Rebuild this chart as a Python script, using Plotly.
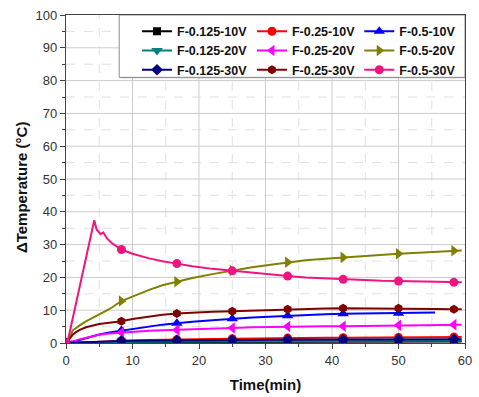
import plotly.graph_objects as go

# ---------------- data ----------------
time = [0, 0.5, 1, 1.5, 2, 3, 4, 5, 6.5, 8.33, 10, 12.5, 14.5, 16.67, 19, 22, 25, 28,
        30.5, 33.33, 36, 39, 41.67, 45, 47.5, 50, 53, 55.5, 58.33, 59.5]
time_pink = [0, 0.2, 4.25, 4.6, 5.2, 5.6, 6.2, 7.0, 8.33, 10, 12.5, 14.5, 16.67, 19, 22, 25, 28,
             30.5, 33.33, 36, 39, 41.67, 45, 47.5, 50, 53, 55.5, 58.33, 59.5]
marker_times = [0, 8.33, 16.67, 25, 33.33, 41.67, 50, 58.33]

f0125_10V = [0, 0.02, 0.05, 0.07, 0.1, 0.12, 0.15, 0.17, 0.2, 0.22, 0.24, 0.27, 0.29, 0.3, 0.32,
             0.34, 0.36, 0.38, 0.39, 0.4, 0.41, 0.42, 0.43, 0.44, 0.45, 0.45, 0.46, 0.47, 0.48, 0.48]
f025_10V = [0, 0.05, 0.1, 0.15, 0.2, 0.3, 0.4, 0.5, 0.6, 0.7, 0.8, 0.9, 1.0, 1.05, 1.1, 1.2, 1.3,
            1.4, 1.45, 1.5, 1.55, 1.6, 1.6, 1.65, 1.7, 1.7, 1.7, 1.75, 1.8, 1.8]
f05_10V = [0, 0.1, 0.3, 0.6, 0.9, 1.5, 2.1, 2.6, 3.2, 3.8, 4.3, 5.1, 5.6, 6.0, 6.5, 6.9, 7.4,
           7.8, 8.0, 8.3, 8.6, 8.8, 8.9, 9.0, 9.1, 9.1, 9.2, 9.3, None, None]
f0125_20V = [0, 0.03, 0.07, 0.1, 0.14, 0.18, 0.22, 0.26, 0.3, 0.34, 0.37, 0.4, 0.43, 0.45, 0.47,
             0.5, 0.52, 0.54, 0.56, 0.58, 0.6, 0.61, 0.62, 0.63, 0.64, 0.65, 0.66, 0.67, 0.68, 0.68]
f025_20V = [0, 0.2, 0.5, 0.8, 1.1, 1.6, 2.1, 2.5, 2.9, 3.2, 3.4, 3.7, 3.9, 4.0, 4.2, 4.4, 4.6,
            4.8, 4.9, 5.0, 5.1, 5.1, 5.1, 5.2, 5.3, 5.4, 5.5, 5.5, 5.6, 5.6]
f05_20V = [0, 1.5, 3.8, 4.6, 5.3, 6.6, 7.7, 8.7, 10.3, 12.8, 14.2, 16.2, 17.6, 18.7, 19.8, 21.0,
           22.1, 23.1, 23.8, 24.6, 25.2, 25.7, 26.1, 26.6, 26.9, 27.2, 27.5, 27.8, 28.1, 28.2]
f0125_30V = [0, 0.05, 0.1, 0.15, 0.2, 0.3, 0.38, 0.45, 0.52, 0.6, 0.65, 0.72, 0.77, 0.8, 0.84,
             0.88, 0.9, 0.94, 0.97, 1.0, 1.02, 1.05, 1.07, 1.09, 1.1, 1.1, 1.12, 1.14, 1.15, 1.15]
f025_30V = [0, 1.2, 2.5, 3.3, 3.9, 4.8, 5.4, 5.8, 6.2, 6.6, 7.3, 8.1, 8.6, 9.0, 9.3, 9.5, 9.7,
            9.9, 10.1, 10.3, 10.4, 10.5, 10.6, 10.6, 10.6, 10.6, 10.5, 10.4, 10.3, 10.3]
f05_30V = [0, 0, 37.4, 34.6, 33.2, 33.7, 31.8, 30.3, 28.5, 27.2, 25.8, 24.9, 24.2, 23.4, 22.6,
           22.0, 21.3, 20.8, 20.4, 20.0, 19.7, 19.4, 19.2, 19.0, 18.9, 18.7, 18.6, 18.5, 18.5]

x_ticks = [0, 10, 20, 30, 40, 50, 60]
y_ticks = [0, 10, 20, 30, 40, 50, 60, 70, 80, 90, 100]

series = [
    # name, t, y, color, symbol, size, legend
    ("F-0.125-10V", time, f0125_10V, "#000000", "square", 8, "legend"),
    ("F-0.25-10V", time, f025_10V, "#FF0000", "circle", 9, "legend2"),
    ("F-0.5-10V", time, f05_10V, "#0000FF", "triangle-up", 10, "legend3"),
    ("F-0.125-20V", time, f0125_20V, "#008080", "triangle-down", 10, "legend"),
    ("F-0.25-20V", time, f025_20V, "#FF00FF", "triangle-left", 10, "legend2"),
    ("F-0.5-20V", time, f05_20V, "#808000", "triangle-right", 10, "legend3"),
    ("F-0.125-30V", time, f0125_30V, "#000080", "diamond", 9, "legend"),
    ("F-0.25-30V", time, f025_30V, "#800000", "hexagon", 9, "legend2"),
    ("F-0.5-30V", time_pink, f05_30V, "#F0147F", "circle", 9, "legend3"),
]

FONT = "Liberation Sans, Arial, sans-serif"
fig = go.Figure()

# grid (major solid at ticks, minor dashed halfway between)
for a, b in zip(x_ticks[:-1], x_ticks[1:]):
    fig.add_shape(type="line", xref="x", yref="paper", x0=(a + b) / 2, x1=(a + b) / 2, y0=0, y1=1,
                  line=dict(color="#e0e0e0", width=1, dash="dash"), layer="below")
for a, b in zip(y_ticks[:-1], y_ticks[1:]):
    fig.add_shape(type="line", xref="paper", yref="y", y0=(a + b) / 2, y1=(a + b) / 2, x0=0, x1=1,
                  line=dict(color="#e0e0e0", width=1, dash="dash"), layer="below")
for v in x_ticks[1:-1]:
    fig.add_shape(type="line", xref="x", yref="paper", x0=v, x1=v, y0=0, y1=1,
                  line=dict(color="#cccccc", width=1), layer="below")
for v in y_ticks[1:-1]:
    fig.add_shape(type="line", xref="paper", yref="y", y0=v, y1=v, x0=0, x1=1,
                  line=dict(color="#cccccc", width=1), layer="below")

for name, t, y, color, sym, size, lg in series:
    fig.add_trace(go.Scatter(x=t, y=y, mode="lines", line=dict(color=color, width=2),
                             showlegend=False, hoverinfo="skip"))
    lookup = dict(zip(t, y))
    mt = [m for m in marker_times if lookup.get(m) is not None]
    my = [lookup[m] for m in mt]
    fig.add_trace(go.Scatter(x=mt, y=my, mode="markers",
                             marker=dict(color=color, symbol=sym, size=size, line=dict(width=0)),
                             showlegend=False, hoverinfo="skip"))

# legend entries (three columns)
order = [0, 3, 6, 1, 4, 7, 2, 5, 8]
for i in order:
    name, t, y, color, sym, size, lg = series[i]
    fig.add_trace(go.Scatter(x=[None], y=[None], mode="lines+markers", name=name, legend=lg,
                             line=dict(color=color, width=2),
                             marker=dict(color=color, symbol=sym, size=size, line=dict(width=0))))

# legend box (with slight shadow)
fig.add_shape(type="rect", xref="x", yref="y", x0=8.2, x1=60.2, y0=80.7, y1=99.7,
              line=dict(width=0), fillcolor="#a8a8a8", opacity=1, layer="above")
fig.add_shape(type="rect", xref="x", yref="y", x0=8.0, x1=60, y0=81, y1=100,
              line=dict(color="#8c8c8c", width=1), fillcolor="#ffffff", opacity=1,
              layer="above")

leg_common = dict(bgcolor="rgba(0,0,0,0)", borderwidth=0, orientation="v",
                  font=dict(family=FONT, size=12.5, color="#111111", weight="bold"),
                  yanchor="top", xanchor="left", y=0.995, itemwidth=30, tracegroupgap=0)
fig.update_layout(
    legend=dict(x=0.178, **leg_common),
    legend2=dict(x=0.466, **leg_common),
    legend3=dict(x=0.735, **leg_common),
)

axis_common = dict(showline=True, linecolor="#444444", linewidth=1.3, mirror=True,
                   showgrid=False, zeroline=False,
                   tickfont=dict(family=FONT, size=13, color="#333333"),
                   ticklen=5, tickwidth=1, tickcolor="#444444", ticks="outside",
                   tickmode="linear", tick0=0, dtick=10)
minor_common = dict(dtick=5, tick0=0, ticks="outside", ticklen=3, tickcolor="#444444",
                    showgrid=False)

fig.update_xaxes(range=[x_ticks[0], x_ticks[-1]], minor=minor_common,
                 title=dict(text="Time(min)", font=dict(family=FONT, size=15, color="#111111",
                                                         weight="bold"), standoff=12),
                 **axis_common)
fig.update_yaxes(range=[y_ticks[0], y_ticks[-1]], minor=minor_common, **axis_common)

# y-axis title
fig.add_annotation(text="ΔTemperature (°C)", xref="paper", yref="paper", x=-0.113, y=0.475,
                   xanchor="center", yanchor="middle", textangle=-90, showarrow=False,
                   font=dict(family=FONT, size=15, color="#111111", weight="bold"))

fig.update_layout(width=479, height=397, margin=dict(l=66, r=7, t=15, b=50),
                  paper_bgcolor="white", plot_bgcolor="white", showlegend=True)

fig.write_html("out.html")
